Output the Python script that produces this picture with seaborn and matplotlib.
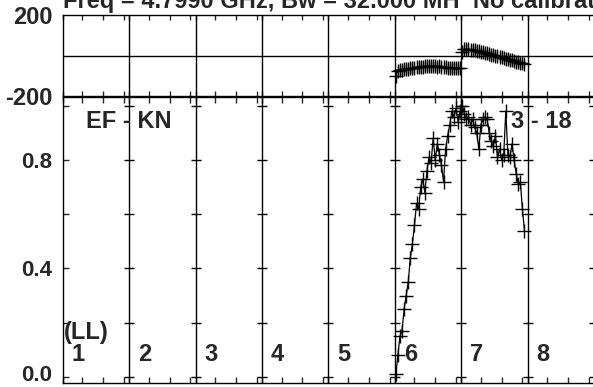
import numpy as np
import pandas as pd
import seaborn as sns
import matplotlib.pyplot as plt
import matplotlib.transforms as mtrans

sns.set_style("white")
plt.rcParams['font.family'] = ['Liberation Sans', 'DejaVu Sans']
plt.rcParams['font.weight'] = 'bold'

# values
n_if = 8
n_chan = 32
if_labels = ['1', '2', '3', '4', '5', '6', '7', '8']

amp_if6 = [0.01, 0.08, 0.15, 0.17, 0.25, 0.30, 0.35, 0.44, 0.49, 0.56, 0.64, 0.62,
           0.70, 0.73, 0.68, 0.76, 0.81, 0.79, 0.88, 0.80, 0.86, 0.82, 0.78, 0.72,
           0.84, 0.89, 0.93, 0.98, 0.96, 0.99, 0.94, 0.98]
amp_if7 = [1.00, 0.97, 0.95, 0.96, 0.93, 0.95, 0.92, 0.90, 0.84, 0.93, 0.95, 0.96,
           0.95, 0.90, 0.87, 0.85, 0.89, 0.81, 0.84, 0.80, 0.82, 0.98, 0.82, 0.81,
           0.86, 0.80, 0.75, 0.71, 0.72, 0.62, 0.54]
phase_if6 = [-100, -75, -72, -70, -68, -66, -65, -63, -61, -60, -58, -57,
             -56, -55, -54, -53, -54, -52, -53, -54, -55, -54, -56, -57,
             -58, -60, -61, -62, -62, -63, -64, -64]
phase_if7 = [15, 30, 32, 31, 29, 27, 25, 22, 20, 18, 15, 12,
             10, 7, 4, 2, 0, -3, -6, -9, -12, -15, -18, -21,
             -24, -27, -30, -33, -36, -38, -40]
phase_err = 24

rows = []
for ifnum, amps, phs in [(6, amp_if6, phase_if6), (7, amp_if7, phase_if7)]:
    for ch, (a, p) in enumerate(zip(amps, phs), start=1):
        rows.append({'IF': ifnum, 'x': (ifnum - 1) * n_chan + ch, 'amp': a, 'phase': p})
df = pd.DataFrame(rows)

W, H = 593, 387
FS = 17
fig = plt.figure(figsize=(W / 100, H / 100), dpi=100)
left, right = 62.7, 594.0
ax_ph = fig.add_axes([left / W, 1 - 96 / H, (right - left) / W, (96 - 15) / H])
ax_amp = fig.add_axes([left / W, 1 - 383 / H, (right - left) / W, (383 - 97) / H])

bounds = np.arange(1, n_if) * n_chan + 0.5
xticks = sorted(list(np.arange(0, n_if + 1) * n_chan + 0.5) +
                [k * n_chan + c for k in range(n_if) for c in (10, 20, 30)])

mk = dict(marker='+', markersize=10, mec='black', mew=1.0)

# phase panel
for ifnum, d in df.groupby('IF'):
    ax_ph.errorbar(d['x'], d['phase'], yerr=phase_err, fmt='none', ecolor='black', elinewidth=0.9)
sns.lineplot(data=df, x='x', y='phase', units='IF', estimator=None, sort=False,
             color='black', linewidth=0.8, ax=ax_ph, **mk)
ax_ph.axhline(0, color='black', lw=1)
for b in bounds:
    ax_ph.axvline(b, color='black', lw=1)
ax_ph.set_xlim(0.5, n_if * n_chan + 0.5)
ax_ph.set_ylim(-200, 200)
ax_ph.set_yticks([200, -200])
ax_ph.set_yticklabels(['200', '-200'])
ax_ph.tick_params(axis='y', length=0, pad=7, labelsize=FS)
ax_ph.set_xticks(xticks)
ax_ph.tick_params(axis='x', direction='in', length=3.6, top=True, bottom=True,
                  labelbottom=False, width=1)

# amplitude panel
sns.lineplot(data=df, x='x', y='amp', units='IF', estimator=None, sort=False,
             color='black', linewidth=0.9, ax=ax_amp, **mk)
for b in bounds:
    ax_amp.axvline(b, color='black', lw=1)
ytk = [0.0, 0.2, 0.4, 0.6, 0.8, 1.0]
for b in list(bounds) + [n_if * n_chan + 0.5]:
    ax_amp.plot([b] * len(ytk), ytk, ls='none', marker='_', markersize=7.5,
                mec='black', mew=1, clip_on=False)
ax_amp.set_xlim(0.5, n_if * n_chan + 0.5)
ax_amp.set_ylim(-0.022, 1.032)
ax_amp.set_yticks([0.0, 0.4, 0.8])
ax_amp.set_yticklabels(['0.0', '0.4', '0.8'])
ax_amp.set_yticks([0.2, 0.6, 1.0], minor=True)
ax_amp.tick_params(axis='y', which='both', direction='in', length=4.3, width=1,
                   pad=7.5, labelsize=16, left=True)
ax_amp.set_xticks(xticks)
ax_amp.tick_params(axis='x', direction='in', length=4.3, top=True, bottom=True,
                   labelbottom=False, width=1)
# nudge the bottom label up so it stays inside the figure
lab0 = ax_amp.get_yticklabels()[0]
lab0.set_transform(lab0.get_transform() + mtrans.ScaledTranslation(0, 3 / 72, fig.dpi_scale_trans))

for ax in (ax_ph, ax_amp):
    ax.set_xlabel('')
    ax.set_ylabel('')
    for s in ax.spines.values():
        s.set_color('black')
        s.set_linewidth(1)

# panel numbers
for k, lab in enumerate(if_labels):
    ax_amp.text(k * n_chan + 4.8, 0.083, lab, fontsize=FS, fontweight='bold',
                ha='left', va='center')
fig.text(64 / W, 1 - 333 / H, '(LL)', fontsize=FS, fontweight='bold', ha='left', va='center')
fig.text(86 / W, 1 - 122 / H, 'EF - KN', fontsize=FS, fontweight='bold', ha='left', va='center')
fig.text(572 / W, 1 - 121 / H, '3 - 18', fontsize=FS, fontweight='bold', ha='right', va='center')
fig.text(63 / W, 1 - 8.3 / H, 'Freq = 4.7990 GHz, Bw = 32.000 MH  No calibration',
         fontsize=FS, fontweight='bold', ha='left', va='baseline')

fig.savefig('out.png', dpi=100)
